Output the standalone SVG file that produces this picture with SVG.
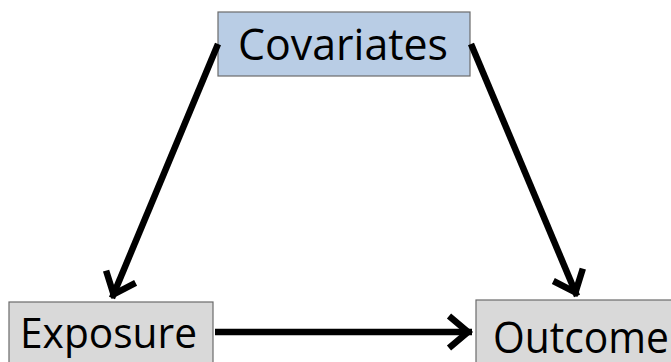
<svg xmlns="http://www.w3.org/2000/svg" width="671" height="362" viewBox="0 0 671 362">
<defs>
<style>
.box{stroke:#6b6b6b;stroke-width:1.2}
.blue{fill:#b9cde5}
.gray{fill:#d9d9d9}
.lbl{font-family:"Open Sans","Liberation Sans",Arial,sans-serif;fill:#000}
.edge{stroke:#000;stroke-width:6.5;fill:none;marker-end:url(#ah)}
</style>
<marker id="ah" markerUnits="userSpaceOnUse" viewBox="-30 -22 36 44" markerWidth="36" markerHeight="44" refX="4" refY="0" orient="auto">
<path d="M-19,-16 L0,0 L-19,16" fill="none" stroke="#000" stroke-width="6.5" stroke-linejoin="miter"/>
</marker>
</defs>
<rect width="671" height="362" fill="#fff"/>
<g id="covariates">
<rect class="box blue" x="218" y="12" width="252" height="64"/>
<text class="lbl" x="238" y="60" font-size="44" textLength="210" lengthAdjust="spacingAndGlyphs">Covariates</text>
</g>
<g id="exposure">
<rect class="box gray" x="9" y="302" width="204" height="70"/>
<text class="lbl" x="20" y="348" font-size="42" textLength="177" lengthAdjust="spacingAndGlyphs">Exposure</text>
</g>
<g id="outcome">
<rect class="box gray" x="476" y="300" width="200" height="70"/>
<text class="lbl" x="493" y="353" font-size="43" textLength="176" lengthAdjust="spacingAndGlyphs">Outcome</text>
</g>
<g id="connectors">
<line class="edge" x1="218" y1="44" x2="112" y2="298"/>
<line class="edge" x1="471" y1="44" x2="577" y2="296"/>
<line class="edge" x1="215" y1="332" x2="472" y2="332"/>
</g>
</svg>
